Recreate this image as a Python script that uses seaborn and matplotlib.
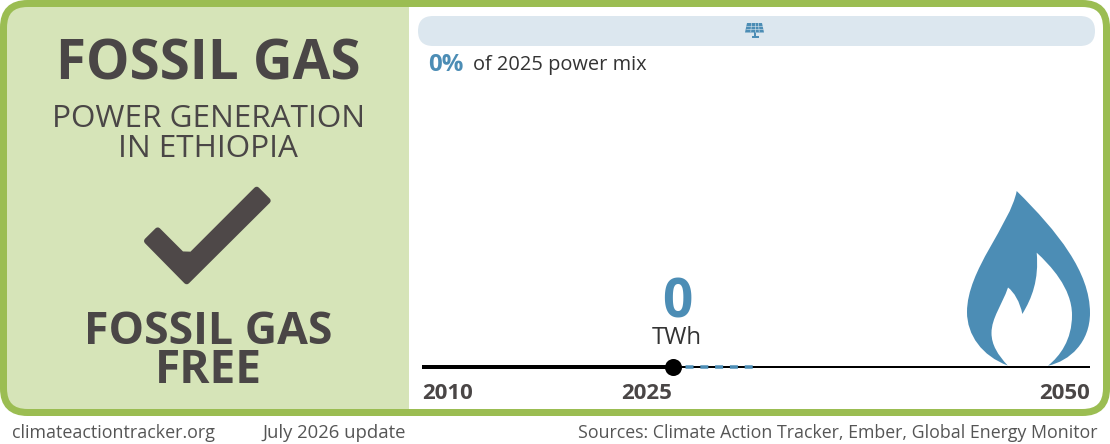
import matplotlib
matplotlib.use("Agg")
import matplotlib.pyplot as plt
import pandas as pd
import seaborn as sns
from matplotlib.patches import FancyBboxPatch, PathPatch, Polygon, Rectangle
from matplotlib.path import Path

hist_years = [2010, 2025]
hist_twh = [0, 0]
full_years = [2010, 2050]
full_twh = [0, 0]
path_years = [2025, 2030]
path_twh = [0, 0]
now_year = [2025]
now_twh = [0]
tick_years = [2010, 2025, 2050]
tick_labels = ["2010", "2025", "2050"]

GREEN = "#9BBD52"
PANEL = "#D6E4B8"
DARK = "#4A4646"
BLUE = "#4C8DB5"
PILL = "#DCE7EF"
PX = 0.72  # px to pt at dpi 100

sns.set_theme(style="white")
plt.rcParams["font.family"] = ["Open Sans", "DejaVu Sans"]

fig = plt.figure(figsize=(11.1, 4.44), dpi=100, facecolor="white")

# decoration layer in pixel coordinates
bg = fig.add_axes([0, 0, 1, 1])
bg.set_xlim(0, 1110)
bg.set_ylim(444, 0)
bg.axis("off")

frame = FancyBboxPatch((3.5, 3.5), 1103, 409, boxstyle="round,pad=0,rounding_size=24",
                       fc="white", ec="none", zorder=1)
bg.add_patch(frame)
panel = Rectangle((0, 0), 409, 416, fc=PANEL, ec="none", zorder=2)
bg.add_patch(panel)
panel.set_clip_path(frame)
bg.add_patch(FancyBboxPatch((3.5, 3.5), 1103, 409, boxstyle="round,pad=0,rounding_size=24",
                            fc="none", ec=GREEN, lw=7 * PX, zorder=3))
bg.add_patch(FancyBboxPatch((418, 16), 677, 30, boxstyle="round,pad=0,rounding_size=15",
                            fc=PILL, ec="none", zorder=2))

# solar panel icon
bg.add_patch(Polygon([(747, 23), (762, 23), (764, 32.5), (745, 32.5)], closed=True,
                     fc=BLUE, ec="none", zorder=3))
for gx in [751.5, 755, 758.5]:
    bg.plot([gx, gx + (gx - 755) * 0.2], [23, 32], color=PILL, lw=0.4, zorder=4)
for gy in [26, 29]:
    bg.plot([746, 763], [gy, gy], color=PILL, lw=0.4, zorder=4)
bg.add_patch(Rectangle((753.8, 32.5), 2.4, 4, fc=BLUE, ec="none", zorder=3))
bg.add_patch(Rectangle((751.5, 36), 7, 1.6, fc=BLUE, ec="none", zorder=3))

# check mark
bg.add_patch(Polygon([(157.7, 230.4), (147, 241), (186.7, 281.3), (267.7, 200.7),
                      (256.7, 189.7), (191.7, 254.7), (181.7, 254.4)], closed=True,
                     fc="#4E4848", ec="#4E4848", lw=6 * PX, joinstyle="round", zorder=3))

# flame
verts = [(1016.7, 191),
         (1010, 225), (967, 270), (967, 312),
         (967, 335), (982, 356), (1007.7, 365.5),
         (998, 355), (991.5, 345), (991.5, 333),
         (991.5, 318), (1002, 305), (1008, 287.5),
         (1014, 292), (1020, 302), (1022.3, 314),
         (1032, 298), (1039, 280), (1036.7, 252.7),
         (1050, 265), (1072, 288), (1072, 315),
         (1072, 340), (1060, 356), (1048, 365.7),
         (1070, 361), (1090, 342), (1090, 313),
         (1090, 272), (1058, 232), (1016.7, 191)]
codes = [Path.MOVETO] + [Path.CURVE4] * (len(verts) - 1)
bg.add_patch(PathPatch(Path(verts, codes), fc=BLUE, ec="none", zorder=3))


def label(x, y, s, size, color=DARK, weight="normal", ha="center"):
    bg.text(x, y, s, fontsize=size * PX, color=color, fontweight=weight, ha=ha,
            va="baseline", zorder=5)


label(208, 79, "FOSSIL GAS", 54.7, weight="bold")
label(208, 127, "POWER GENERATION", 31.5)
label(208, 157, "IN ETHIOPIA", 31.5)
label(208, 344, "FOSSIL GAS", 44.7, weight="bold")
label(208, 383, "FREE", 46, weight="bold")

label(428, 71, "0%", 24, color=BLUE, weight="bold", ha="left")
label(473, 70, "of 2025 power mix", 20, color="#333333", ha="left")
label(677, 317, "0", 53, color=BLUE, weight="bold")
label(677, 344, "TWh", 24, color="#333333")

label(12, 438, "climateactiontracker.org", 17.9, color="#555555", ha="left")
label(262, 438, "July 2026 update", 18.5, color="#555555", ha="left")
label(1098, 438, "Sources: Climate Action Tracker, Ember, Global Energy Monitor", 17.75,
      color="#555555", ha="right")

# timeline, in data coordinates
ax = fig.add_axes([422 / 1110, (444 - 377) / 444, 668 / 1110, 20 / 444], zorder=2)
ax.patch.set_visible(False)

hist = pd.DataFrame({"year": hist_years, "twh": hist_twh})
full = pd.DataFrame({"year": full_years, "twh": full_twh})
pathway = pd.DataFrame({"year": path_years, "twh": path_twh})
now = pd.DataFrame({"year": now_year, "twh": now_twh})

sns.lineplot(data=full, x="year", y="twh", color="black", linewidth=2 * PX, ax=ax)
sns.lineplot(data=hist, x="year", y="twh", color="black", linewidth=4 * PX, ax=ax)
sns.lineplot(data=pathway, x="year", y="twh", color=BLUE, linewidth=3.5 * PX, ax=ax)
ax.lines[-1].set_linestyle((0.66, (2.29, 1.94)))
sns.scatterplot(data=now, x="year", y="twh", color="black", s=150, linewidth=0,
                zorder=5, clip_on=False, ax=ax)

ax.set_xlim(2010, 2050)
ax.set_ylim(-1, 1)
ax.set_xlabel("")
ax.set_ylabel("")
ax.set_yticks([])
ax.set_xticks(tick_years)
ax.set_xticklabels(tick_labels, fontsize=22.3 * PX, fontweight="bold", color=DARK)
for t, align in zip(ax.get_xticklabels(), ["left", "right", "right"]):
    t.set_ha(align)
ax.tick_params(axis="x", length=0, pad=4)
sns.despine(ax=ax, left=True, bottom=True)

fig.savefig("out.png", dpi=100)
